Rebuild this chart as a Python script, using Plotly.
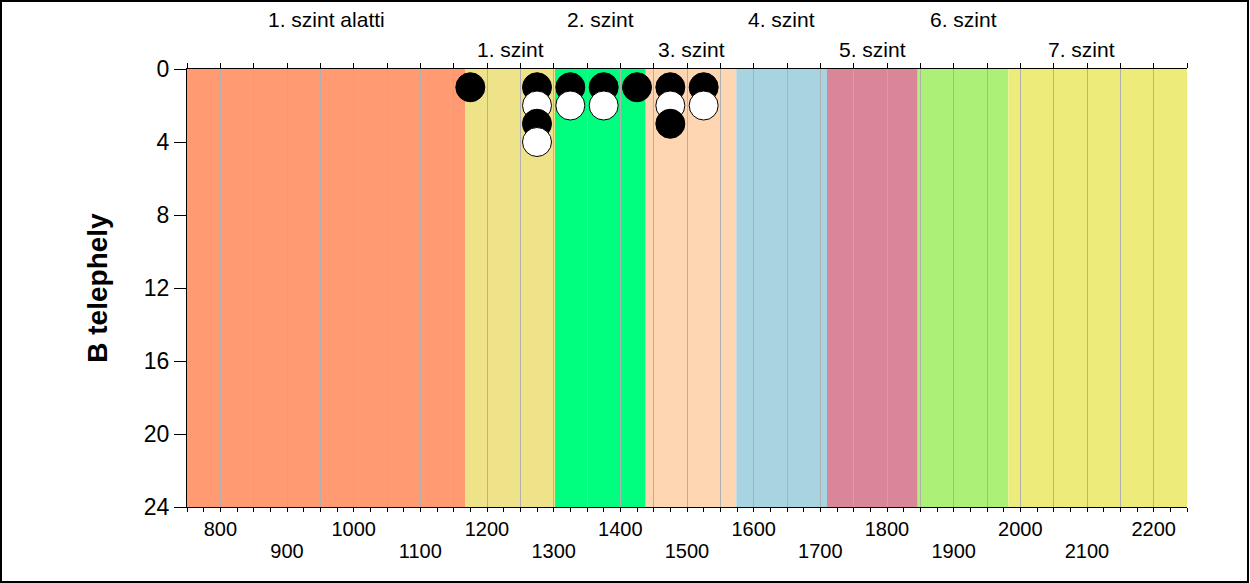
import plotly.graph_objects as go

# szint sávok (határok) és színek
level_names = ["1. szint alatti", "1. szint", "2. szint", "3. szint",
               "4. szint", "5. szint", "6. szint", "7. szint"]
level_edges = [750, 1167, 1302, 1438, 1574, 1710, 1846, 1982, 2250]
level_colors = ["#FF9A73", "#EFE38A", "#00FF7F", "#FFD6B2",
                "#A8D4E2", "#D98798", "#ADF078", "#EDEC7A"]
label_x = [959, 1235, 1370, 1507, 1642, 1778, 1914, 2091]

# mérési pontok
pt_x = [1175, 1275, 1275, 1275, 1275, 1325, 1325, 1375, 1375, 1425, 1475, 1475, 1475, 1525, 1525]
pt_y = [1, 1, 2, 3, 4, 1, 2, 1, 2, 1, 1, 2, 3, 1, 2]
pt_fill = ["black", "black", "white", "black", "white", "black", "white", "black",
           "white", "black", "black", "white", "black", "black", "white"]

bottom_labels_1 = [800, 1000, 1200, 1400, 1600, 1800, 2000, 2200]
bottom_labels_2 = [900, 1100, 1300, 1500, 1700, 1900, 2100]

xrange = [level_edges[0], level_edges[-1]]
grid_vals = list(range(xrange[0], xrange[1] + 1, 50))
grid_text = [str(v) if v in bottom_labels_1 else "" for v in grid_vals]

fig = go.Figure()

fig.add_trace(go.Scatter(
    x=pt_x, y=pt_y, mode="markers",
    marker=dict(size=29, color=pt_fill, line=dict(color="black", width=1)),
    showlegend=False, hoverinfo="x+y"))

# üres trace-ek a további tengelyekhez
fig.add_trace(go.Scatter(x=[level_edges[0]], y=[0], xaxis="x2", mode="markers",
                         marker=dict(opacity=0), showlegend=False, hoverinfo="skip"))
fig.add_trace(go.Scatter(x=[level_edges[0]], y=[0], xaxis="x3", mode="markers",
                         marker=dict(opacity=0), showlegend=False, hoverinfo="skip"))

shapes = []
for i in range(len(level_names)):
    shapes.append(dict(type="rect", xref="x", yref="y",
                       x0=level_edges[i], x1=level_edges[i + 1], y0=0, y1=24,
                       fillcolor=level_colors[i], line=dict(width=0), layer="below"))
# keret a kép körül
shapes.append(dict(type="rect", xref="paper", yref="paper",
                   x0=-186 / 1000, x1=1061 / 1000, y0=-75 / 438, y1=1 + 68 / 438,
                   line=dict(color="black", width=2)))

annotations = []
for i, name in enumerate(level_names):
    annotations.append(dict(x=label_x[i], y=1 + (49 if i % 2 == 0 else 19) / 438,
                            xref="x", yref="paper", text=name, showarrow=False,
                            font=dict(size=21, color="black"), yanchor="middle"))

fig.update_layout(
    width=1250, height=583,
    margin=dict(l=187, r=63, t=69, b=76),
    paper_bgcolor="white", plot_bgcolor="white",
    font=dict(family="Arial, Liberation Sans, sans-serif", color="black"),
    shapes=shapes, annotations=annotations,
    xaxis=dict(range=xrange, tickmode="array", tickvals=grid_vals, ticktext=grid_text,
               ticks="outside", ticklen=4, tickcolor="black",
               minor=dict(dtick=25, tick0=750, ticks="outside", ticklen=4, tickcolor="black"),
               showline=True, linecolor="black", linewidth=1,
               showgrid=True, gridcolor="#B0B0B0", gridwidth=1, zeroline=False,
               tickfont=dict(size=20)),
    xaxis2=dict(range=xrange, overlaying="x", side="bottom", anchor="y",
                tickmode="array", tickvals=bottom_labels_2, ticks="",
                ticklabelstandoff=30, showgrid=False, showline=False, zeroline=False,
                tickfont=dict(size=20)),
    xaxis3=dict(range=xrange, overlaying="x", side="top", anchor="y",
                tickmode="array", tickvals=grid_vals, ticks="outside", ticklen=5,
                tickcolor="black", showticklabels=False, showgrid=False,
                showline=True, linecolor="black", linewidth=1, zeroline=False),
    yaxis=dict(range=[24, 0], tickmode="array", tickvals=[0, 4, 8, 12, 16, 20, 24],
               ticks="outside", ticklen=12, tickcolor="black",
               showline=True, linecolor="black", linewidth=1,
               showgrid=False, zeroline=False,
               tickfont=dict(size=23),
               title=dict(text="<b>B telephely</b>", font=dict(size=28), standoff=28)),
)

# oldal margó nélkül, rácsvonalak egész pixelre igazítva
js = """
document.body.style.margin = '0';
document.querySelectorAll('path.xgrid').forEach(function (p) {
    var t = p.getAttribute('transform') || '';
    var m = t.match(/translate\\(\\s*([-\\d.]+)/);
    if (m) {
        var x = Math.round(parseFloat(m[1]) - 0.5) + 0.5;
        p.setAttribute('transform', 'translate(' + x + ',0)');
    }
    p.style.shapeRendering = 'crispEdges';
});
"""

fig.write_html("out.html", config={"displayModeBar": False}, post_script=js)
